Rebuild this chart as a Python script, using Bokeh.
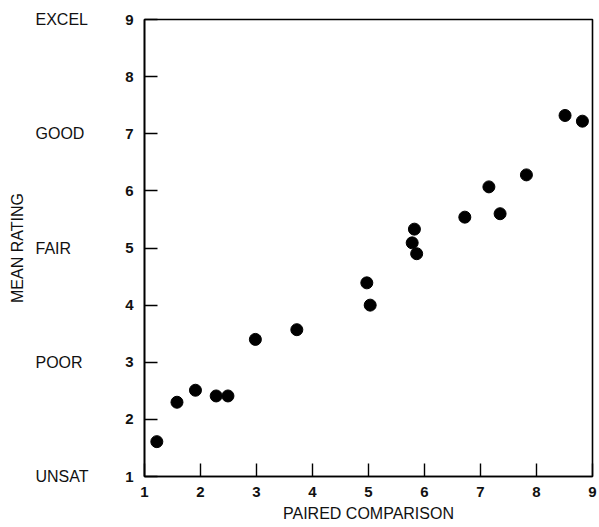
import math
from bokeh.plotting import figure
from bokeh.layouts import row
from bokeh.models import Range1d, FixedTicker
from bokeh.core.properties import value
from bokeh.embed import file_html
from bokeh.resources import INLINE

# Data
paired_comparison = [1.22, 1.58, 1.91, 2.28, 2.49, 2.98, 3.72, 4.97, 5.03,
                     5.82, 5.78, 5.86, 6.72, 7.15, 7.35, 7.82, 8.51, 8.82]
mean_rating = [1.61, 2.30, 2.51, 2.41, 2.41, 3.40, 3.57, 4.39, 4.00,
               5.33, 5.09, 4.90, 5.54, 6.07, 5.60, 6.28, 7.32, 7.22]
tick_values = [1, 2, 3, 4, 5, 6, 7, 8, 9]
rating_words = ["UNSAT", "POOR", "FAIR", "GOOD", "EXCEL"]
rating_word_values = [1, 3, 5, 7, 9]
x_title = "PAIRED COMPARISON"
y_title = "MEAN RATING"

FONT = "Liberation Sans"
TXT = "#111111"
W, H = 599, 527
LEFT_W = 100
TOP, BOTTOM = 19, 51          # borders around the main frame
Y0, Y1 = 1, 9                 # value range of the main plot

# the side strip spans the whole height, so its y-range is widened so that
# its scale lines up with the main plot's frame
frame_h = H - TOP - BOTTOM
per_px = (Y1 - Y0) / frame_h
side_range = Range1d(Y0 - BOTTOM * per_px, Y1 + TOP * per_px)

# ---- left strip: verbal scale and y-axis title ----
side = figure(width=LEFT_W, height=H, output_backend="svg", toolbar_location=None,
              x_range=Range1d(0, LEFT_W), y_range=side_range,
              x_axis_type=None, y_axis_type=None,
              min_border_left=0, min_border_right=0,
              min_border_top=0, min_border_bottom=0)
side.frame_align = False
side.outline_line_color = None
side.background_fill_color = "white"
side.border_fill_color = "white"
side.xgrid.visible = False
side.ygrid.visible = False
side.text(x=[35] * len(rating_words), y=rating_word_values, text=rating_words,
          text_font=value(FONT), text_font_size=value("16px"),
          text_align="left", text_baseline="middle", text_color=TXT)
side.text(x=[17], y=[(Y0 + Y1) / 2], text=[y_title], angle=math.pi / 2,
          text_font=value(FONT), text_font_size=value("16px"),
          text_align="center", text_baseline="middle", text_color=TXT)

# ---- main scatter plot ----
p = figure(width=W - LEFT_W, height=H, output_backend="svg", toolbar_location=None,
           x_range=Range1d(1, 9), y_range=Range1d(Y0, Y1),
           min_border_left=144 - LEFT_W, min_border_right=7,
           min_border_top=TOP, min_border_bottom=BOTTOM,
           x_axis_label=x_title)
p.frame_align = False

p.background_fill_color = "white"
p.border_fill_color = "white"
p.outline_line_color = "black"
p.outline_line_width = 1.6
p.xgrid.visible = False
p.ygrid.visible = False

for ax in (p.xaxis[0], p.yaxis[0]):
    ax.ticker = FixedTicker(ticks=tick_values)
    ax.axis_line_color = "black"
    ax.axis_line_width = 1.6
    ax.major_tick_in = 13
    ax.major_tick_out = 0
    ax.major_tick_line_width = 1.4
    ax.major_tick_line_color = "black"
    ax.minor_tick_line_color = None
    ax.major_label_text_font = FONT
    ax.major_label_text_font_size = "15px"
    ax.major_label_text_font_style = "bold"
    ax.major_label_text_color = TXT
    ax.axis_label_text_font = FONT
    ax.axis_label_text_font_size = "16px"
    ax.axis_label_text_font_style = "normal"
    ax.axis_label_text_color = TXT

p.xaxis[0].major_label_standoff = 10
p.xaxis[0].axis_label_standoff = 5
p.yaxis[0].major_label_standoff = 11

p.scatter(paired_comparison, mean_rating, size=12, marker="circle",
          fill_color="black", line_color="black")

layout = row(side, p, spacing=0)
open("out.html", "w").write(file_html(layout, INLINE))
